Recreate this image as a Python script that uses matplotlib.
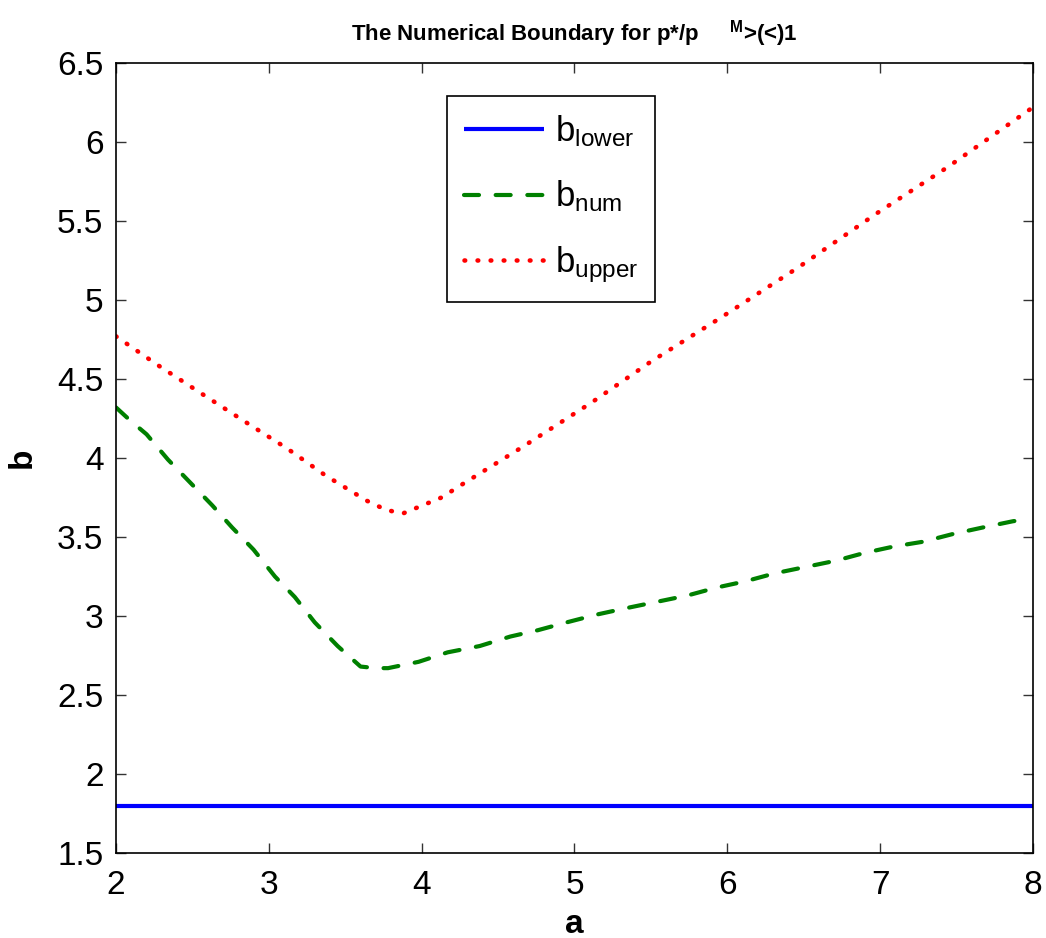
import numpy as np
import matplotlib
matplotlib.use('Agg')
from matplotlib import pyplot as plt

# values
a_lower = [2.0, 8.0]
b_lower = [1.8, 1.8]

a_num = [2.0, 2.09, 2.2, 2.34, 2.48, 2.63, 2.76, 2.9, 3.04, 3.17, 3.3, 3.45, 3.6, 3.7, 3.78,
         3.98, 4.17, 4.38, 4.58, 4.76, 4.95, 5.15, 5.34, 5.54, 5.74, 5.93, 6.12, 6.31, 6.51,
         6.71, 6.9, 7.09, 7.28, 7.48, 7.67, 7.87, 7.95]
b_num = [4.32, 4.24, 4.15, 3.99, 3.85, 3.70, 3.56, 3.42, 3.25, 3.12, 2.96, 2.81, 2.68, 2.67, 2.67,
         2.71, 2.77, 2.81, 2.87, 2.91, 2.96, 3.01, 3.05, 3.09, 3.13, 3.18, 3.22, 3.27, 3.31,
         3.35, 3.40, 3.44, 3.47, 3.52, 3.56, 3.60, 3.61]

a_upper = [2.0, 2.27, 2.54, 2.86, 3.12, 3.37, 3.64, 3.77, 3.88, 4.13, 4.26, 4.66, 5.11, 5.5,
           5.96, 6.47, 6.98, 7.44, 8.0]
b_upper = [4.77, 4.59, 4.42, 4.22, 4.06, 3.89, 3.73, 3.67, 3.65, 3.75, 3.83, 4.07, 4.35, 4.61,
           4.89, 5.21, 5.55, 5.84, 6.22]

xticks = [2, 3, 4, 5, 6, 7, 8]
yticks = [1.5, 2, 2.5, 3, 3.5, 4, 4.5, 5, 5.5, 6, 6.5]

plt.rcParams['font.family'] = ['Liberation Sans', 'DejaVu Sans']
plt.rcParams['mathtext.fontset'] = 'custom'
plt.rcParams['mathtext.rm'] = 'Liberation Sans'
plt.rcParams['mathtext.it'] = 'Liberation Sans:italic'
plt.rcParams['mathtext.bf'] = 'Liberation Sans:bold'

fig = plt.figure(figsize=(10.46, 9.38), dpi=100)
ax = fig.add_axes([116/1046, 1-853/938, (1033-116)/1046, (853-63)/938])

ax.plot(a_lower, b_lower, color='#0000ff', lw=3, solid_capstyle='butt', label=r'b$_{\mathrm{lower}}$')
ax.plot(a_num, b_num, color='#008000', lw=3, dashes=(3.6, 4.0), dash_capstyle='round',
        label=r'b$_{\mathrm{num}}$')
ax.plot(a_upper, b_upper, color='#ff0000', lw=3.3, dashes=(0.15, 2.7), dash_capstyle='round',
        label=r'b$_{\mathrm{upper}}$')

ax.set_xlim(2, 8)
ax.set_ylim(1.5, 6.5)
ax.set_xticks(xticks)
ax.set_yticks(yticks)
ax.set_xticklabels([str(t) for t in xticks])
ax.set_yticklabels(['%g' % t for t in yticks])
ax.tick_params(direction='in', length=7, width=1, top=True, right=True, labelsize=24,
               color='#333333')
ax.tick_params(axis='x', pad=12)
ax.tick_params(axis='y', pad=9)
for s in ax.spines.values():
    s.set_linewidth(1.2)

ax.set_xlabel('a', fontsize=24, fontweight='bold', labelpad=6)
ax.set_ylabel('b', fontsize=24, fontweight='bold', labelpad=14)
ax.set_title(r'The Numerical Boundary for p*/p     $^{\mathbf{M}}$>(<)1', fontsize=16,
             fontweight='bold', pad=16)

leg = ax.legend(loc='upper left', bbox_to_anchor=(0.361, 0.958), fontsize=25, frameon=True,
                fancybox=False, framealpha=1, edgecolor='black', handlelength=2.3,
                handletextpad=0.3, labelspacing=0.85, borderpad=0.5, borderaxespad=0)
leg.get_frame().set_linewidth(1.2)

fig.savefig('out.png', dpi=100)
